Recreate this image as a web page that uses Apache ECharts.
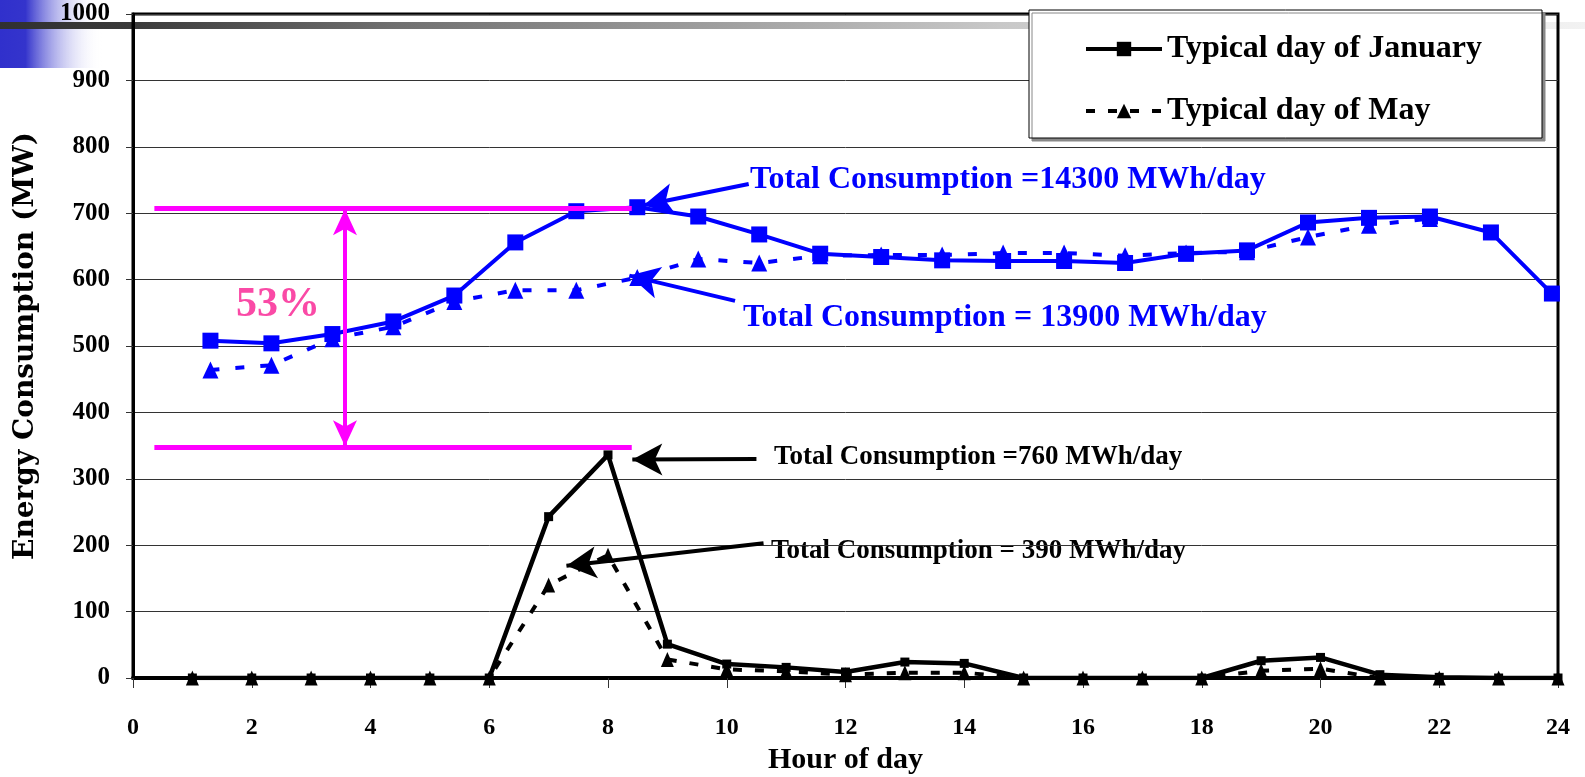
<!DOCTYPE html>
<html>
<head>
<meta charset="utf-8">
<title>Energy Consumption</title>
<script src="https://cdn.jsdelivr.net/npm/echarts@6/dist/echarts.min.js"></script>
<style>
  html, body { margin: 0; padding: 0; background: #fff; }
  #chart { width: 1585px; height: 777px; }
</style>
</head>
<body>
<div id="chart"></div>
<script>
// hours of the day (black curves)
var hours = [1, 2, 3, 4, 5, 6, 7, 8, 9, 10, 11, 12, 13, 14, 15, 16, 17, 18, 19, 20, 21, 22, 23, 24];
var janValues = [0, 0, 0, 0, 0, 0, 243, 336, 51, 21, 16, 9, 24, 22, 0, 0, 0, 0, 26, 31, 5, 1, 0, 0];
var mayValues = [0, 0, 0, 0, 0, 0, 140, 185, 28, 13, 10, 5, 8, 8, 0, 0, 0, 0, 11, 14, 0, 0, 0, 0];

// blue curves are drawn on their own (slightly stretched) hour scale
var totalIdx = [1, 2, 3, 4, 5, 6, 7, 8, 9, 10, 11, 12, 13, 14, 15, 16, 17, 18, 19, 20, 21, 22, 23];
var totalJan = [508, 504, 518, 537, 576, 656, 703, 709, 695, 668, 639, 634, 629, 628, 628, 625, 639, 644, 686, 693, 695, 671, 579];
var totalMay = [464, 471, 511, 529, 567, 584, 584, 603, 631, 625, 636, 637, 637, 640, 640, 636, 640, 642, 664, 682, 692];

var yTicks = [0, 100, 200, 300, 400, 500, 600, 700, 800, 900, 1000];
var xTicks = [0, 2, 4, 6, 8, 10, 12, 14, 16, 18, 20, 22, 24];

function pairs(xs, ys) {
    return ys.map(function (v, i) { return [xs[i], v]; });
}

var serif = 'Liberation Serif';
var chart = echarts.init(document.getElementById('chart'));

// arrow helper for markLine (start plain, end with arrow head)
function arrow(from, to, color, width) {
    return [
        { coord: from, symbol: 'none', lineStyle: { color: color, width: width, type: 'solid' } },
        { coord: to, symbol: 'arrow', symbolSize: [24, 30] }
    ];
}

var magenta = '#ff00ff';

var option = {
    animation: false,
    grid: {
        left: 133, right: 27, top: 14, bottom: 99,
        outerBoundsMode: 'none', containLabel: false,
        show: true, borderColor: '#000', borderWidth: 3
    },
    legend: {
        data: ['Typical day of January', 'Typical day of May'],
        orient: 'vertical',
        left: 1029, top: 10,
        padding: [23, 60, 11, 55],
        itemGap: 30,
        itemWidth: 76, itemHeight: 18,
        backgroundColor: '#fff',
        borderColor: '#000', borderWidth: 1,
        shadowColor: '#888', shadowOffsetX: 3, shadowOffsetY: 3, shadowBlur: 0,
        lineStyle: { width: 4 },
        textStyle: { fontFamily: serif, fontWeight: 'bold', fontSize: 32, color: '#000' }
    },
    xAxis: [{
        type: 'value', min: 0, max: 24, interval: 2,
        name: 'Hour of day', nameLocation: 'middle', nameGap: 55,
        nameTextStyle: { fontFamily: serif, fontWeight: 'bold', fontSize: 30, color: '#000' },
        axisLine: { show: true, onZero: false, lineStyle: { color: '#000', width: 4 } },
        axisTick: { show: true, length: 10, lineStyle: { color: '#333', width: 1 } },
        axisLabel: {
            margin: 38, fontFamily: serif, fontWeight: 'bold', fontSize: 24, color: '#000',
            formatter: function (v) { return xTicks.indexOf(v) >= 0 ? String(v) : ''; }
        },
        splitLine: { show: false }
    }, {
        type: 'value', min: -0.27, max: 23.1, show: false
    }],
    yAxis: {
        type: 'value', min: 0, max: 1000, interval: 100,
        name: 'Energy Consumption (MW)', nameLocation: 'middle', nameGap: 93,
        nameTextStyle: { fontFamily: 'DejaVu Serif', fontWeight: 'bold', fontSize: 28, color: '#000' },
        axisLine: { show: true, lineStyle: { color: '#000', width: 3 } },
        axisTick: { show: true, length: 7, lineStyle: { color: '#333', width: 1 } },
        axisLabel: {
            margin: 23, fontFamily: serif, fontWeight: 'bold', fontSize: 25, color: '#000',
            formatter: function (v) { return yTicks.indexOf(v) >= 0 ? String(v) : ''; }
        },
        splitLine: { show: true, lineStyle: { color: '#333', width: 1 } }
    },
    graphic: [
        // slide decoration in the top-left corner
        {
            type: 'rect', z: -10, shape: { x: 0, y: 0, width: 102, height: 68 },
            style: {
                fill: new echarts.graphic.LinearGradient(0, 0, 1, 0, [
                    { offset: 0, color: '#3030cc' },
                    { offset: 0.25, color: '#3434cc' },
                    { offset: 1, color: 'rgba(255,255,255,0)' }
                ])
            }
        },
        {
            type: 'rect', z: -9, shape: { x: 0, y: 22, width: 1585, height: 7 },
            style: {
                fill: new echarts.graphic.LinearGradient(0, 0, 1, 0, [
                    { offset: 0, color: '#303030' },
                    { offset: 0.08, color: '#3a3a3a' },
                    { offset: 0.25, color: '#707070' },
                    { offset: 0.63, color: '#c8c8c8' },
                    { offset: 1, color: '#f2f2f2' }
                ])
            }
        },
        {
            type: 'text', x: 236, y: 305,
            style: { text: '53%', fill: '#fa4aa6', font: 'bold 42px "Liberation Serif"', verticalAlign: 'middle' }
        },
        {
            type: 'text', x: 750, y: 180,
            style: { text: 'Total Consumption =14300 MWh/day', fill: '#0000ff', font: 'bold 32px "Liberation Serif"', verticalAlign: 'middle' }
        },
        {
            type: 'text', x: 743, y: 318,
            style: { text: 'Total Consumption = 13900 MWh/day', fill: '#0000ff', font: 'bold 32px "Liberation Serif"', verticalAlign: 'middle' }
        },
        {
            type: 'text', x: 774, y: 457,
            style: { text: 'Total Consumption =760 MWh/day', fill: '#000', font: 'bold 27px "Liberation Serif"', verticalAlign: 'middle' }
        },
        {
            type: 'text', x: 771, y: 551,
            style: { text: 'Total Consumption = 390 MWh/day', fill: '#000', font: 'bold 27px "Liberation Serif"', verticalAlign: 'middle' }
        }
    ],
    series: [
        {
            // carrier for the magenta range marks and the callout arrows (hour axis)
            name: 'range', type: 'line', data: [], xAxisIndex: 0,
            markLine: {
                silent: true, label: { show: false },
                lineStyle: { color: magenta, width: 5, type: 'solid' },
                data: [
                    [{ coord: [0.36, 708], symbol: 'none' }, { coord: [8.4, 708], symbol: 'none' }],
                    [{ coord: [0.36, 347], symbol: 'none' }, { coord: [8.4, 347], symbol: 'none' }],
                    [{ coord: [3.57, 706], symbol: 'arrow', symbolSize: [18, 26], lineStyle: { width: 4 } },
                     { coord: [3.57, 349], symbol: 'arrow', symbolSize: [18, 26] }],
                    arrow([10.37, 744], [8.6, 712], '#0000ff', 4),
                    arrow([10.14, 568], [8.36, 606], '#0000ff', 4),
                    arrow([10.5, 330], [8.41, 329], '#000', 4),
                    arrow([10.62, 203], [7.3, 169], '#000', 4)
                ]
            }
        },
        {
            name: 'Total May', type: 'line', xAxisIndex: 1,
            data: pairs(totalIdx, totalMay),
            symbol: 'triangle', symbolSize: [16, 17],
            itemStyle: { color: '#0000ff' },
            lineStyle: { color: '#0000ff', width: 4, type: [9, 16] }
        },
        {
            name: 'Total January', type: 'line', xAxisIndex: 1,
            data: pairs(totalIdx, totalJan),
            symbol: 'rect', symbolSize: 16,
            itemStyle: { color: '#0000ff' },
            lineStyle: { color: '#0000ff', width: 4 }
        },
        {
            name: 'Typical day of May', type: 'line', xAxisIndex: 0,
            data: pairs(hours, mayValues),
            symbol: 'triangle', symbolSize: [13, 15],
            itemStyle: { color: '#000' },
            lineStyle: { color: '#000', width: 4, type: [9, 13] }
        },
        {
            name: 'Typical day of January', type: 'line', xAxisIndex: 0,
            data: pairs(hours, janValues),
            symbol: 'rect', symbolSize: 9,
            itemStyle: { color: '#000' },
            lineStyle: { color: '#000', width: 4.5 }
        }
    ]
};

chart.setOption(option);
</script>
</body>
</html>
